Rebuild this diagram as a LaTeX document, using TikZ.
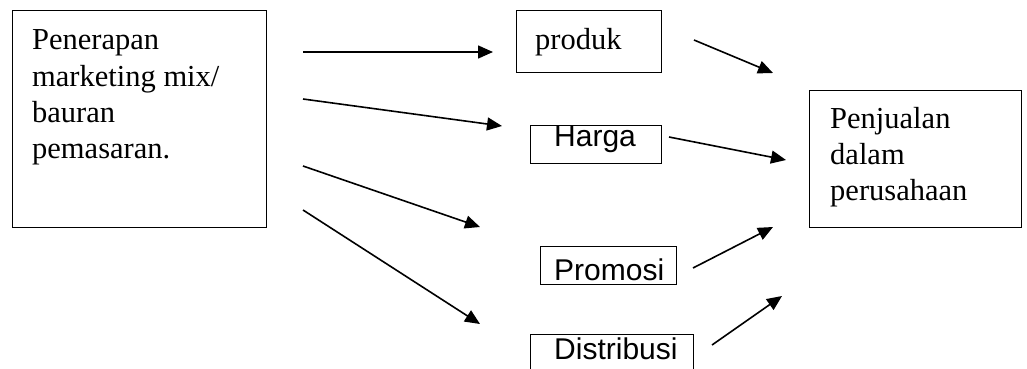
\documentclass[tikz,border=0pt]{standalone}
\usepackage{fontspec}
\setmainfont{Liberation Serif}
\newfontfamily\arialfont{Liberation Sans}
\usetikzlibrary{arrows.meta}
\begin{document}
\begin{tikzpicture}[x=1pt,y=-1pt,
 box/.style={draw, line width=1.4pt, inner sep=0pt, anchor=north west},
 txt/.style={anchor=base west, inner sep=0pt, font=\fontsize{30.5}{36}\selectfont},
 stxt/.style={anchor=base west, inner sep=0pt, font=\arialfont\fontsize{30}{36}\selectfont},
 arr/.style={line width=1.6pt, -{Triangle[length=15pt,width=13pt]}}]
\useasboundingbox (0,0) rectangle (1027,369);
% boxes
\node[box, minimum width=254pt, minimum height=217pt] (src) at (12,10) {};
\node[box, minimum width=145pt, minimum height=62pt] (prod) at (516,10) {};
\node[box, minimum width=131pt, minimum height=38pt] (harga) at (530,125) {};
\node[box, minimum width=136pt, minimum height=38pt] (promo) at (540,246) {};
\node[box, minimum width=163pt, minimum height=60pt] (dist) at (530,334) {};
\node[box, minimum width=212pt, minimum height=137pt] (sales) at (809,90) {};
% texts
\node[txt] (s1) at (32,50) {Penerapan};
\node[txt] (s2) at (32,86) {marketing mix/};
\node[txt] (s3) at (32,122) {bauran};
\node[txt] (s4) at (32,158) {pemasaran.};
\node[txt] (tp) at (535,49) {produk};
\node[stxt] (th) at (554,146) {Harga};
\node[stxt] (tr) at (554,280) {Promosi};
\node[stxt] (td) at (554,359) {Distribusi};
\node[txt] (r1) at (830,128) {Penjualan};
\node[txt] (r2) at (830,164) {dalam};
\node[txt] (r3) at (830,200) {perusahaan};
% arrow ends
\coordinate (a1s) at (303,52);  \coordinate (a1e) at (493,52);
\coordinate (a2s) at (303,99);  \coordinate (a2e) at (502,126);
\coordinate (a3s) at (303,166); \coordinate (a3e) at (480,227);
\coordinate (a4s) at (303,210); \coordinate (a4e) at (480,324);
\coordinate (b1s) at (694,40);  \coordinate (b1e) at (773,73);
\coordinate (b2s) at (669,137); \coordinate (b2e) at (786,160);
\coordinate (b3s) at (693,268); \coordinate (b3e) at (773,227);
\coordinate (b4s) at (712,345); \coordinate (b4e) at (782,296);
\draw[arr] (a1s) -- (a1e);
\draw[arr] (a2s) -- (a2e);
\draw[arr] (a3s) -- (a3e);
\draw[arr] (a4s) -- (a4e);
\draw[arr] (b1s) -- (b1e);
\draw[arr] (b2s) -- (b2e);
\draw[arr] (b3s) -- (b3e);
\draw[arr] (b4s) -- (b4e);
\end{tikzpicture}
\end{document}
